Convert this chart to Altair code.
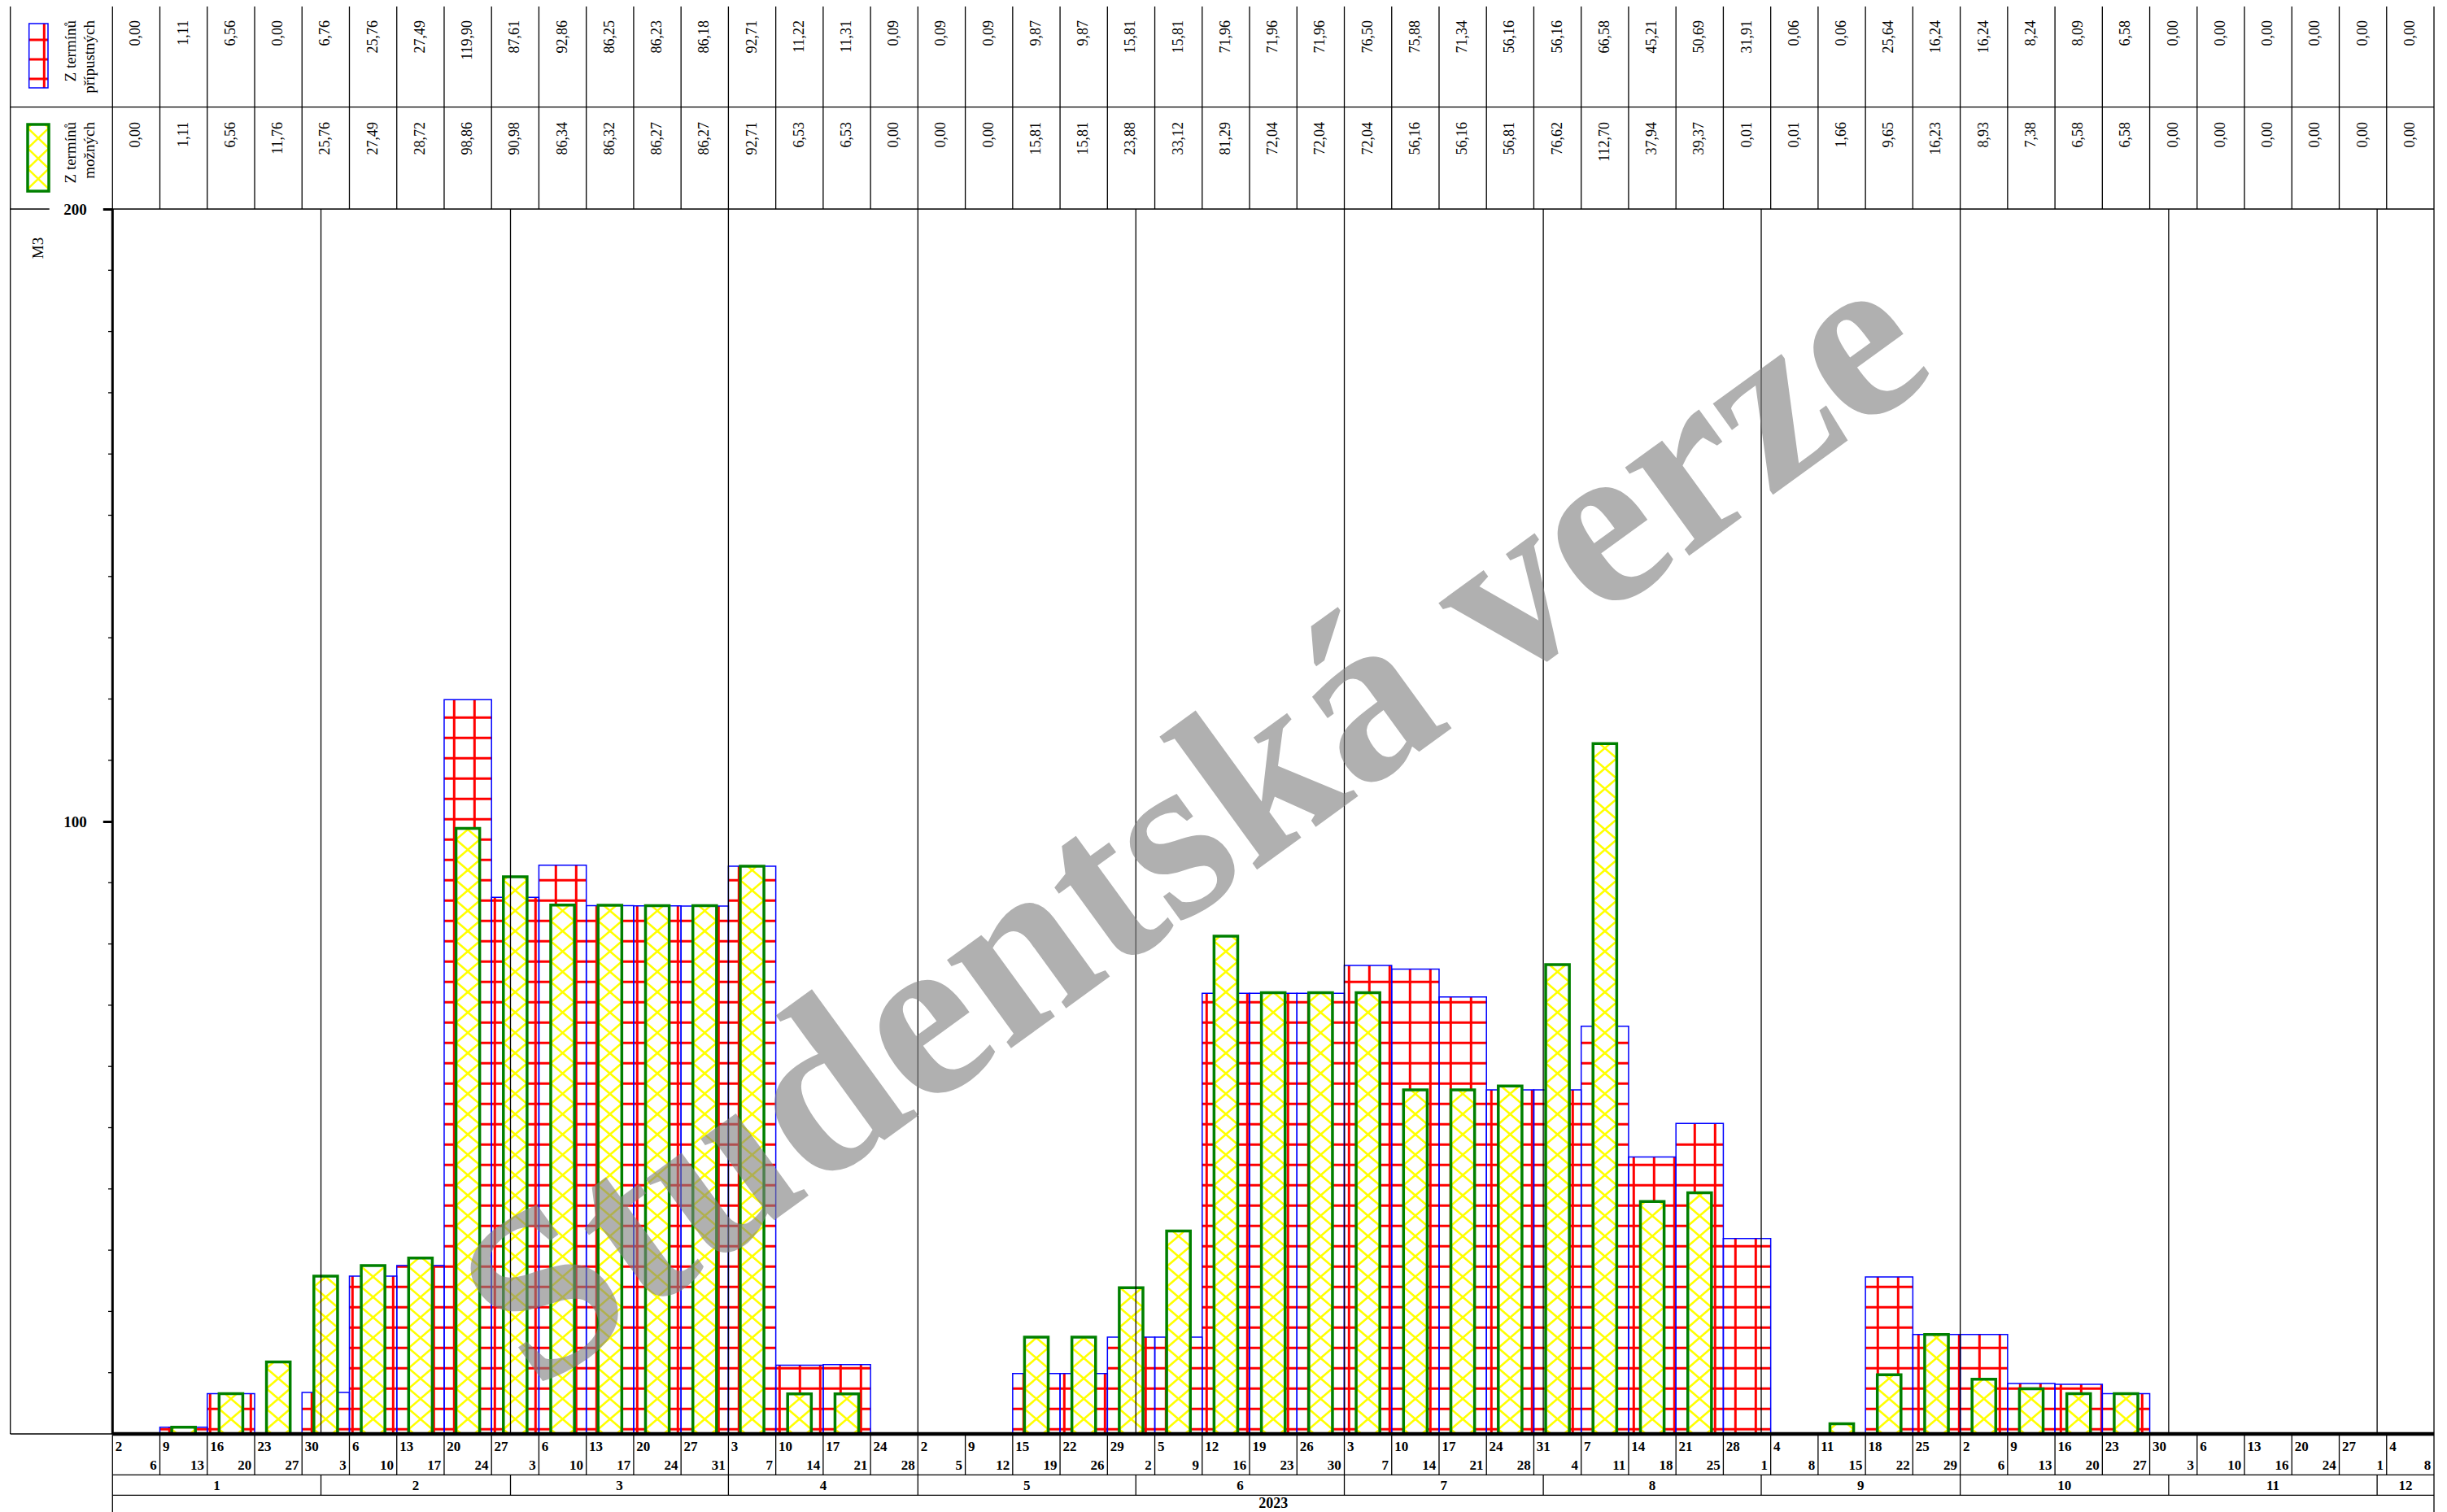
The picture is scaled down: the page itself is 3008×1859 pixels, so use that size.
import math
import altair as alt
import pandas as pd

# ---------------- data ----------------
week_start = [2, 9, 16, 23, 30, 6, 13, 20, 27, 6, 13, 20, 27, 3, 10, 17, 24,
              2, 9, 15, 22, 29, 5, 12, 19, 26, 3, 10, 17, 24, 31, 7, 14, 21, 28,
              4, 11, 18, 25, 2, 9, 16, 23, 30, 6, 13, 20, 27, 4]
week_end = [6, 13, 20, 27, 3, 10, 17, 24, 3, 10, 17, 24, 31, 7, 14, 21, 28,
            5, 12, 19, 26, 2, 9, 16, 23, 30, 7, 14, 21, 28, 4, 11, 18, 25, 1,
            8, 15, 22, 29, 6, 13, 20, 27, 3, 10, 16, 24, 1, 8]
month_labels = ["1", "2", "3", "4", "5", "6", "7", "8", "9", "10", "11", "12"]
month_bounds = [0, 4.4, 8.4, 13, 17, 21.6, 26, 30.2, 34.8, 39, 43.4, 47.8, 49]
year_label = "2023"
series_names = ["Z termínů přípustných", "Z termínů možných"]
pripustne = [0.00, 1.11, 6.56, 0.00, 6.76, 25.76, 27.49, 119.90, 87.61, 92.86,
             86.25, 86.23, 86.18, 92.71, 11.22, 11.31, 0.09, 0.09, 0.09, 9.87,
             9.87, 15.81, 15.81, 71.96, 71.96, 71.96, 76.50, 75.88, 71.34, 56.16,
             56.16, 66.58, 45.21, 50.69, 31.91, 0.06, 0.06, 25.64, 16.24, 16.24,
             8.24, 8.09, 6.58, 0.00, 0.00, 0.00, 0.00, 0.00, 0.00]
mozne = [0.00, 1.11, 6.56, 11.76, 25.76, 27.49, 28.72, 98.86, 90.98, 86.34,
         86.32, 86.27, 86.27, 92.71, 6.53, 6.53, 0.00, 0.00, 0.00, 15.81,
         15.81, 23.88, 33.12, 81.29, 72.04, 72.04, 72.04, 56.16, 56.16, 56.81,
         76.62, 112.70, 37.94, 39.37, 0.01, 0.01, 1.66, 9.65, 16.23, 8.93,
         7.38, 6.58, 6.58, 0.00, 0.00, 0.00, 0.00, 0.00, 0.00]
y_ticks_labelled = [100, 200]
y_title = "M3"
watermark = "Studentská verze"

# ---------------- layout (page pixels) ----------------
SERIF = "Liberation Serif"
PAGE_X0, PAGE_Y0 = 8, 8
VIEW_W, VIEW_H = 2992, 1851
AX_X, RIGHT_X = 138.3, 2992.0
BASE_Y, TOP_Y = 1763.0, 257.0
Y_MAX = 200
NW = len(week_start)
PXW = (RIGHT_X - AX_X) / NW
PXU = (BASE_Y - TOP_Y) / Y_MAX
PAT, PH_X, PH_Y = 25.0, 8.3, 7.3


def wx(px):
    return (px - AX_X) / PXW


def vy(py):
    return (BASE_Y - py) / PXU


Y_BOT = vy(PAGE_Y0 + VIEW_H)
XS = alt.Scale(domain=[wx(PAGE_X0), wx(PAGE_X0 + VIEW_W)], nice=False, zero=False)
YS = alt.Scale(domain=[Y_BOT, vy(PAGE_Y0)], nice=False, zero=False)
YAX = alt.Axis(values=y_ticks_labelled, domain=False, grid=False, tickSize=12,
               tickWidth=3, tickColor="black", labelFont=SERIF,
               labelFontWeight="bold", labelFontSize=19, labelColor="black",
               labelPadding=20, offset=-(AX_X - PAGE_X0), title=None)


def xenc(f):
    return alt.X(f + ":Q", scale=XS, axis=None)


def yenc(f):
    return alt.Y(f + ":Q", scale=YS, axis=YAX)


def seg_df(segs):
    return pd.DataFrame(segs, columns=["x", "y", "x2", "y2"])


def rules(segs, color, width):
    return alt.Chart(seg_df(segs)).mark_rule(color=color, strokeWidth=width).encode(
        x=xenc("x"), x2="x2:Q", y=yenc("y"), y2="y2:Q")


def rects(df, **kw):
    return alt.Chart(df).mark_rect(**kw).encode(
        x=xenc("x0"), x2="x1:Q", y=yenc("y0"), y2="y1:Q")


def texts(rows, **kw):
    df = pd.DataFrame(rows, columns=["x", "y", "label"])
    return alt.Chart(df).mark_text(font=SERIF, color="black", **kw).encode(
        x=xenc("x"), y=yenc("y"), text="label:N")


def lattice_px(xl, xr, ytop, ybot):
    segs = []
    k0 = math.floor((ytop - PH_Y) / PAT)
    k1 = math.ceil((ybot - PH_Y) / PAT)
    for k in range(k0, k1):
        c0 = PH_Y + k * PAT
        c1 = c0 + PAT
        ya, yb = max(c0, ytop), min(c1, ybot)
        if yb - ya <= 0.05:
            continue
        fa = lambda y: xl + (xr - xl) * (c1 - y) / PAT
        fb = lambda y: xr - (xr - xl) * (c1 - y) / PAT
        segs.append((wx(fa(yb)), vy(yb), wx(fa(ya)), vy(ya)))
        segs.append((wx(fb(yb)), vy(yb), wx(fb(ya)), vy(ya)))
    return segs


def fmt(v):
    return f"{v:.2f}".replace(".", ",")


# ---------------- bars ----------------
red = pd.DataFrame([{"x0": i, "x1": i + 1, "y0": 0, "y1": v}
                    for i, v in enumerate(pripustne) if v > 0])
grn = pd.DataFrame([{"x0": i + 0.25, "x1": i + 0.75, "y0": 0, "y1": v}
                    for i, v in enumerate(mozne) if v > 0])

# legend swatches
sw1 = pd.DataFrame([{"x0": wx(35.7), "x1": wx(59), "y0": vy(108), "y1": vy(29)}])
sw2 = pd.DataFrame([{"x0": wx(34), "x1": wx(60), "y0": vy(235), "y1": vy(153)}])

# red grid pattern
red_lines = []
for i, v in enumerate(pripustne):
    if v <= 0:
        continue
    ytop = BASE_Y - v * PXU
    k = math.ceil((ytop + 1.0 - PH_Y) / PAT)
    while PH_Y + k * PAT < BASE_Y:
        py = PH_Y + k * PAT
        red_lines.append((i, vy(py), i + 1, vy(py)))
        k += 1
k = math.ceil((AX_X + 1 - PH_X) / PAT)
while PH_X + k * PAT < RIGHT_X - 1:
    px = PH_X + k * PAT
    i = int((px - AX_X) // PXW)
    if pripustne[i] > 0.5:
        red_lines.append((wx(px), 0, wx(px), pripustne[i]))
    k += 1
red_lines.append((wx(54.3), vy(108), wx(54.3), vy(29)))
for py in (49, 73, 97):
    red_lines.append((wx(35.7), vy(py), wx(59), vy(py)))

# yellow lattice
yel_lines = []
for i, v in enumerate(mozne):
    if v <= 0:
        continue
    yel_lines += lattice_px(AX_X + (i + 0.25) * PXW, AX_X + (i + 0.75) * PXW,
                            BASE_Y - v * PXU, BASE_Y)
yel_lines += lattice_px(34, 60, 153, 235)

# ---------------- frame lines ----------------
top_y, sep_y, left_x = vy(6), vy(131.7), wx(12.7)
wk_bot, mo_bot = vy(1813.3), vy(1838.3)
frame = [(left_x, top_y, NW, top_y), (left_x, sep_y, NW, sep_y),
         (0, Y_MAX, NW, Y_MAX), (left_x, Y_MAX, wx(60.7), Y_MAX),
         (left_x, top_y, left_x, 0), (left_x, 0, 0, 0),
         (0, top_y, 0, Y_BOT), (NW, top_y, NW, Y_BOT),
         (0, wk_bot, NW, wk_bot), (0, mo_bot, NW, mo_bot)]
for i in range(1, NW):
    frame.append((i, Y_MAX, i, top_y))
    frame.append((i, 0, i, wk_bot))
for b in month_bounds[1:-1]:
    frame.append((b, wk_bot, b, mo_bot))
month_lines = [(b, 0, b, Y_MAX) for b in month_bounds[1:-1]]
axis_y = [(0, 0, 0, Y_MAX)]
axis_x = [(0, 0, NW, 0)]
minor = [(wx(133), v, 0, v) for v in range(10, Y_MAX, 10) if v not in y_ticks_labelled]

# ---------------- texts ----------------
row1 = [(i + 0.5, vy(25), fmt(v)) for i, v in enumerate(pripustne)]
row2 = [(i + 0.5, vy(150), fmt(v)) for i, v in enumerate(mozne)]
leg = []
for r, name in enumerate(series_names):
    a, b = name.rsplit(" ", 1)
    ty = vy(25) if r == 0 else vy(150)
    leg += [(wx(87.3), ty, a), (wx(110), ty, b)]
ws = [(i + 3.4 / PXW, vy(1778.7), str(d)) for i, d in enumerate(week_start)]
we = [(i + 1 - 3.7 / PXW, vy(1801.5), str(d)) for i, d in enumerate(week_end)]
mo = [((month_bounds[j] + month_bounds[j + 1]) / 2, vy(1826.5), m)
      for j, m in enumerate(month_labels)]
yr = [(NW / 2, vy(1849), year_label)]
ttl = [(wx(47), vy(305), y_title)]
wm = [(wx(1470), vy(1015), watermark)]

layers = [
    rules(frame, "black", 1.3),
    rects(red, fill="white"),
    rects(sw1, fill="white"),
    rules(red_lines, "#ff0000", 3),
    rects(red, fillOpacity=0, stroke="#0000ff", strokeWidth=1.5),
    rects(sw1, fillOpacity=0, stroke="#0000ff", strokeWidth=1.5),
    rects(grn, fill="white"),
    rects(sw2, fill="white"),
    rules(yel_lines, "#ffff00", 2.5),
    rects(grn, fillOpacity=0, stroke="#008000", strokeWidth=3.5),
    rects(sw2, fillOpacity=0, stroke="#008000", strokeWidth=3.5),
    rules(month_lines, "black", 1.3),
    rules(minor, "black", 1.3),
    rules(axis_y, "black", 3),
    rules(axis_x, "black", 4.5),
    texts(row1, angle=270, align="right", baseline="middle", fontSize=18),
    texts(row2, angle=270, align="right", baseline="middle", fontSize=18),
    texts(leg, angle=270, align="right", baseline="middle", fontSize=19),
    texts(ws, align="left", baseline="middle", fontSize=17, fontWeight="bold"),
    texts(we, align="right", baseline="middle", fontSize=17, fontWeight="bold"),
    texts(mo, align="center", baseline="middle", fontSize=17, fontWeight="bold"),
    texts(yr, align="center", baseline="middle", fontSize=18, fontWeight="bold"),
    texts(ttl, angle=270, align="center", baseline="middle", fontSize=19),
    alt.Chart(pd.DataFrame(wm, columns=["x", "y", "label"])).mark_text(
        font=SERIF, fontWeight="bold", fontSize=292, angle=324, align="center",
        baseline="middle", color="#808080", opacity=0.62).encode(
        x=xenc("x"), y=yenc("y"), text="label:N"),
]

chart = alt.layer(*layers).properties(
    width=VIEW_W, height=VIEW_H, padding=0, background="white",
    autosize=alt.AutoSizeParams(type="none"),
).configure_view(strokeWidth=0)

chart.save("out.html", embed_options={"renderer": "svg", "actions": False})
